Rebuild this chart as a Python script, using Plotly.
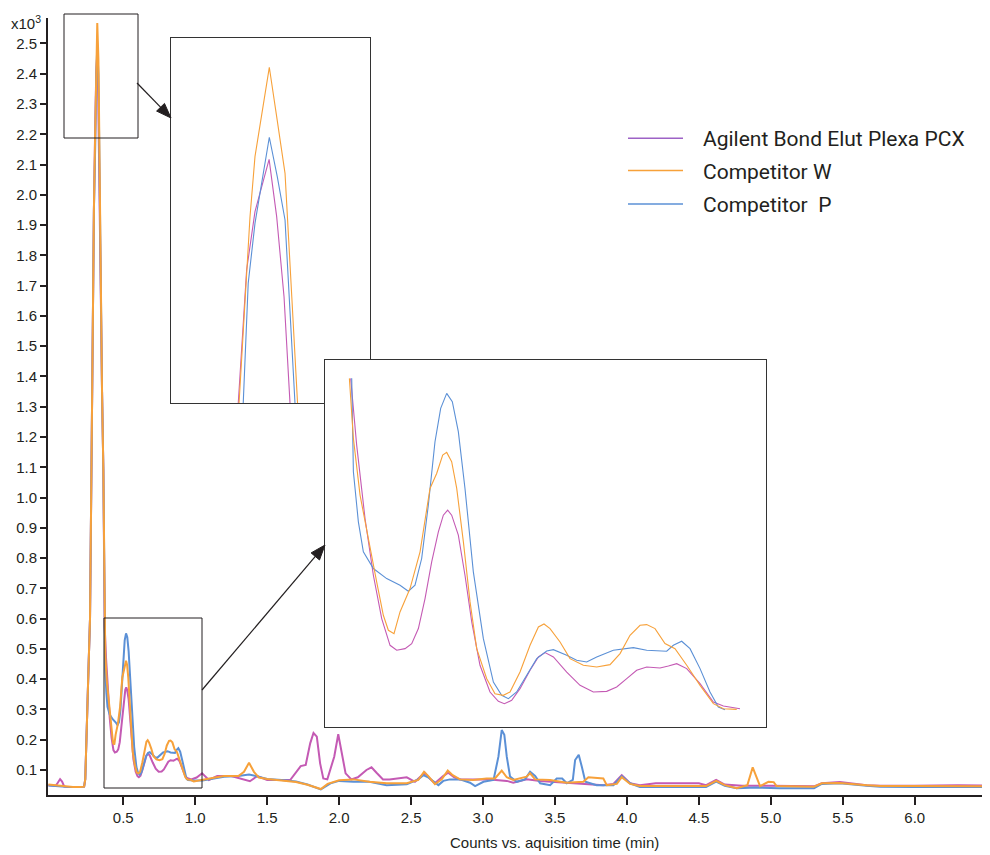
import numpy as np
import plotly.graph_objects as go

# ---------------- data (time in min, counts in x10^3) ----------------
pcx_time = [-0.02, 0.0, 0.03, 0.045, 0.061, 0.075, 0.09, 0.15, 0.2, 0.228, 0.236, 0.244, 0.252, 0.26, 0.269, 0.278, 0.288, 0.296,
            0.3038, 0.3080, 0.3122, 0.3193, 0.3231, 0.3268, 0.3298,
            0.336, 0.343, 0.3525, 0.3617,
            0.3707, 0.3800, 0.3929, 0.4058, 0.4187, 0.4316, 0.4419, 0.4548, 0.4651, 0.4754, 0.4857, 0.4960, 0.5063, 0.5140,
            0.5207, 0.5269, 0.5372, 0.5475, 0.5579, 0.5707, 0.5862, 0.5991, 0.6084, 0.6197, 0.6326, 0.6481, 0.6610, 0.6713,
            0.6842, 0.7048, 0.7254, 0.7460, 0.7666, 0.7821, 0.7976, 0.8130, 0.8285, 0.8491, 0.8620, 0.8749, 0.8904, 0.9110,
            0.9316, 0.9471, 0.9728,
            1.01, 1.048, 1.095, 1.153, 1.25, 1.339, 1.38, 1.432, 1.5, 1.66, 1.71, 1.733, 1.768, 1.799, 1.822, 1.845, 1.868,
            1.89, 1.918, 1.966, 1.994, 2.022, 2.045, 2.085, 2.13, 2.19, 2.225, 2.26, 2.305, 2.35, 2.40, 2.47, 2.527, 2.572,
            2.595, 2.63, 2.665, 2.723, 2.758, 2.80, 2.84, 3.05, 3.165, 3.21, 3.303, 3.397, 3.49, 3.63, 3.72, 3.836, 3.906,
            3.964, 4.022, 4.09, 4.2, 4.5, 4.55, 4.62, 4.68, 4.8, 5.0, 5.3, 5.354, 5.48, 5.666, 5.76, 6.0, 6.3, 6.52]
pcx_counts = [0.05, 0.05, 0.048, 0.058, 0.070, 0.062, 0.045, 0.044, 0.044, 0.045, 0.07, 0.18, 0.32, 0.46, 0.6, 1.1, 1.59, 1.95,
              2.19, 2.3394, 2.4049, 2.4637, 2.3993, 2.3094, 2.19,
              1.9, 1.6, 1.35, 1.09,
              0.5744, 0.4722, 0.3598, 0.2729, 0.2065, 0.1656, 0.1580, 0.1605, 0.1682, 0.1912, 0.2372, 0.2934, 0.3394, 0.3649,
              0.3726, 0.3649, 0.3343, 0.2729, 0.2014, 0.1350, 0.0941, 0.0798, 0.0762, 0.0813, 0.0992, 0.1273, 0.1477, 0.1544,
              0.1477, 0.1247, 0.1043, 0.0941, 0.0951, 0.1017, 0.1145, 0.1273, 0.1324, 0.1309, 0.1340, 0.1375, 0.1299, 0.1068,
              0.0787, 0.0726, 0.0685,
              0.075, 0.089, 0.067, 0.080, 0.08, 0.069, 0.063, 0.080, 0.067, 0.067, 0.10, 0.113, 0.117, 0.188, 0.222, 0.21, 0.122,
              0.072, 0.069, 0.144, 0.218, 0.144, 0.089, 0.069, 0.076, 0.10, 0.109, 0.091, 0.069, 0.069, 0.072, 0.076, 0.061, 0.083,
              0.091, 0.072, 0.056, 0.080, 0.091, 0.076, 0.069, 0.069, 0.064, 0.058, 0.069, 0.064, 0.061, 0.058, 0.056, 0.05, 0.054,
              0.083, 0.056, 0.05, 0.056, 0.056, 0.05, 0.067, 0.052, 0.048, 0.048, 0.046, 0.056, 0.060, 0.05, 0.048, 0.048, 0.05, 0.048]

w_time = [-0.02, 0.0, 0.02, 0.06, 0.10, 0.15, 0.20, 0.228, 0.236, 0.244, 0.252, 0.26, 0.269, 0.278, 0.288, 0.296,
          0.3042, 0.3058, 0.3097, 0.3122, 0.3194, 0.3231, 0.3273, 0.3307, 0.3332,
          0.338, 0.343, 0.3525, 0.3617,
          0.3687, 0.3749, 0.3852, 0.4006, 0.4109, 0.4212, 0.4290, 0.4377, 0.4470, 0.4625, 0.4780, 0.4934, 0.5037, 0.5130,
          0.5192, 0.5269, 0.5347, 0.5450, 0.5553, 0.5656, 0.5811, 0.5939, 0.6068, 0.6171, 0.6326, 0.6481, 0.6610, 0.6697,
          0.6790, 0.6945, 0.7099, 0.7305, 0.7512, 0.7718, 0.7873, 0.8027, 0.8182, 0.8285, 0.8414, 0.8568, 0.8723, 0.8904,
          0.9110, 0.9316, 0.9471, 0.9677,
          0.99, 1.05, 1.10, 1.2, 1.3, 1.339, 1.374, 1.408, 1.443, 1.5, 1.6, 1.7, 1.78, 1.873, 1.92, 2.0, 2.1, 2.21, 2.33,
          2.47, 2.55, 2.59, 2.62, 2.666, 2.713, 2.755, 2.789, 2.84, 2.93, 3.025, 3.083, 3.13, 3.165, 3.21, 3.303, 3.327,
          3.362, 3.466, 3.582, 3.697, 3.732, 3.836, 3.86, 3.93, 3.964, 4.022, 4.09, 4.3, 4.55, 4.62, 4.68, 4.763, 4.837,
          4.874, 4.906, 4.925, 4.983, 5.02, 5.04, 5.3, 5.354, 5.48, 5.666, 5.76, 6.0, 6.3, 6.52]
w_counts = [0.052, 0.051, 0.048, 0.046, 0.045, 0.044, 0.044, 0.045, 0.07, 0.18, 0.32, 0.46, 0.6, 1.1, 1.59, 1.95,
            2.19, 2.2495, 2.3993, 2.4667, 2.5671, 2.5116, 2.4480, 2.3094, 2.19,
            1.9, 1.6, 1.35, 1.09,
            0.5744, 0.4824, 0.3956, 0.3138, 0.2627, 0.2116, 0.1886, 0.1835, 0.2167, 0.2525, 0.3087, 0.4058, 0.4288, 0.4569,
            0.4610, 0.4467, 0.4058, 0.3240, 0.2321, 0.1605, 0.1145, 0.0915, 0.0890, 0.0941, 0.1247, 0.1656, 0.1937, 0.1983,
            0.1912, 0.1707, 0.1452, 0.1350, 0.1324, 0.1360, 0.1529, 0.1810, 0.1963, 0.1973, 0.1912, 0.1682, 0.1605, 0.1350,
            0.1043, 0.0762, 0.0685, 0.0675,
            0.062, 0.068, 0.072, 0.08, 0.08, 0.094, 0.124, 0.094, 0.075, 0.07, 0.065, 0.06, 0.051, 0.037, 0.054, 0.066, 0.069, 0.061, 0.056,
            0.056, 0.067, 0.094, 0.080, 0.053, 0.069, 0.098, 0.083, 0.069, 0.067, 0.072, 0.072, 0.098, 0.076, 0.067, 0.078, 0.089,
            0.069, 0.067, 0.058, 0.061, 0.076, 0.072, 0.05, 0.054, 0.076, 0.054, 0.047, 0.048, 0.047, 0.064, 0.05, 0.04, 0.05,
            0.109, 0.072, 0.047, 0.061, 0.06, 0.047, 0.045, 0.056, 0.057, 0.05, 0.047, 0.047, 0.046, 0.046]

p_time = [-0.02, 0.0, 0.05, 0.10, 0.15, 0.20, 0.228, 0.236, 0.244, 0.252, 0.26, 0.269, 0.278, 0.288, 0.296,
          0.3063, 0.3088, 0.3122, 0.3194, 0.3234, 0.3273, 0.3323,
          0.338, 0.343, 0.3525, 0.3617,
          0.3723, 0.3749, 0.3826, 0.3903, 0.4058, 0.4264, 0.4470, 0.4599, 0.4702, 0.4805, 0.4908, 0.5011, 0.5099, 0.5192,
          0.5279, 0.5372, 0.5475, 0.5604, 0.5759, 0.5914, 0.6042, 0.6146, 0.6274, 0.6429, 0.6584, 0.6738, 0.6842, 0.7048,
          0.7202, 0.7357, 0.7512, 0.7769, 0.8079, 0.8285, 0.8594, 0.8697, 0.8826, 0.8955, 0.9110, 0.9264, 0.9393, 0.9496,
          0.99, 1.05, 1.1, 1.2, 1.3, 1.374, 1.44, 1.5, 1.6, 1.7, 1.78, 1.873, 1.94, 2.0, 2.1, 2.21, 2.33, 2.47, 2.55, 2.585,
          2.618, 2.69, 2.724, 2.77, 2.84, 2.91, 2.945, 3.003, 3.073, 3.107, 3.13, 3.148, 3.165, 3.188, 3.234, 3.292, 3.327,
          3.362, 3.397, 3.466, 3.512, 3.55, 3.582, 3.624, 3.64, 3.665, 3.687, 3.711, 3.79, 3.906, 3.964, 4.022, 4.09, 4.3,
          4.55, 4.62, 4.68, 4.763, 4.9, 5.06, 5.3, 5.354, 5.48, 5.666, 5.76, 6.0, 6.3, 6.52]
p_counts = [0.049, 0.048, 0.046, 0.045, 0.044, 0.044, 0.045, 0.07, 0.18, 0.32, 0.46, 0.6, 1.1, 1.59, 1.95,
            2.19, 2.3245, 2.3918, 2.4885, 2.4442, 2.3956, 2.19,
            1.9, 1.6, 1.35, 1.09,
            0.5744, 0.4313, 0.3547, 0.3087, 0.2832, 0.2678, 0.2576, 0.2484, 0.2576, 0.2985, 0.3803, 0.4773, 0.5284, 0.5514,
            0.5387, 0.4927, 0.4058, 0.2781, 0.1758, 0.1094, 0.0890, 0.0839, 0.0941, 0.1196, 0.1452, 0.1569, 0.1590, 0.1503,
            0.1426, 0.1401, 0.1478, 0.1580, 0.1621, 0.1580, 0.1565, 0.1656, 0.1718, 0.1605, 0.1299, 0.0941, 0.0711, 0.0670,
            0.065, 0.065, 0.07, 0.078, 0.08, 0.085, 0.078, 0.07, 0.067, 0.062, 0.052, 0.036, 0.056, 0.064, 0.061, 0.061, 0.05, 0.053, 0.069, 0.083,
            0.076, 0.05, 0.064, 0.069, 0.069, 0.058, 0.047, 0.061, 0.067, 0.144, 0.232, 0.216, 0.144, 0.078, 0.061, 0.069, 0.094,
            0.080, 0.056, 0.05, 0.072, 0.072, 0.056, 0.067, 0.133, 0.15, 0.11, 0.061, 0.05, 0.05, 0.08, 0.056, 0.044, 0.043,
            0.044, 0.062, 0.048, 0.04, 0.042, 0.04, 0.04, 0.054, 0.056, 0.048, 0.045, 0.044, 0.044, 0.044]

series_names = ["Agilent Bond Elut Plexa PCX", "Competitor W", "Competitor  P"]
line_colors = ["#c45ab4", "#f7a13a", "#5b90d6"]
legend_colors = ["#9d62c6", "#f7a13a", "#5b90d6"]

x_tick_vals = [0.5, 1.0, 1.5, 2.0, 2.5, 3.0, 3.5, 4.0, 4.5, 5.0, 5.5, 6.0]
x_tick_text = ["0.5", "1.0", "1.5", "2.0", "2.5", "3.0", "3.5", "4.0", "4.5", "5.0", "5.5", "6.0"]
y_tick_vals = [round(0.1 * i, 1) for i in range(1, 26)]
y_tick_text = ["%.1f" % v for v in y_tick_vals]

# ---------------- figure ----------------
series = [(pcx_time, pcx_counts), (p_time, p_counts), (w_time, w_counts)]
order_idx = [0, 2, 1]

fig = go.Figure()
for (t, c), k in zip(series, order_idx):
    fig.add_trace(go.Scatter(x=t, y=c, mode="lines", name=series_names[k],
                             line=dict(color=line_colors[k], width=2), showlegend=False,
                             xaxis="x", yaxis="y", hoverinfo="skip"))
for (t, c), k in zip(series, order_idx):
    fig.add_trace(go.Scatter(x=t, y=c, mode="lines", line=dict(color=line_colors[k], width=1.1),
                             showlegend=False, xaxis="x2", yaxis="y2", hoverinfo="skip"))
for (t, c), k in zip(series, order_idx):
    ta = np.array(t); ca = np.array(c)
    m = (ta >= 0.365) & (ta <= 0.975)
    fig.add_trace(go.Scatter(x=ta[m], y=ca[m], mode="lines", line=dict(color=line_colors[k], width=1.1),
                             showlegend=False, xaxis="x3", yaxis="y3", hoverinfo="skip"))

# page places the figure 8px from the top-left corner (body margin)
OFF = 8
W, H = 982, 847
L, R, T, B = 40, 0, 10, 60
PW, PH = W - L - R, H - T - B


def px(X):
    """screen x pixel -> paper x"""
    return (X - OFF - L) / PW


def py(Y):
    """screen y pixel -> paper y"""
    return (H - B - (Y - OFF)) / PH


ink = "#231f20"
tick_font = dict(family="Liberation Sans, Arial, sans-serif", size=15, color=ink)
inset_axis = dict(showticklabels=False, ticks="", showgrid=False, zeroline=False, showline=True,
                  mirror=True, linecolor="#333333", linewidth=1, fixedrange=True)

fig.update_layout(
    width=W, height=H,
    margin=dict(l=L, r=R, t=T, b=B),
    paper_bgcolor="white", plot_bgcolor="white",
    showlegend=False,
    xaxis=dict(range=[-0.023, 6.523], tickvals=x_tick_vals, ticktext=x_tick_text, ticks="outside",
               ticklen=8, tickwidth=2, tickcolor=ink, showline=True, linecolor=ink, linewidth=2,
               showgrid=False, zeroline=False, tickfont=tick_font, anchor="y"),
    yaxis=dict(range=[0.0174, 2.584], tickvals=y_tick_vals, ticktext=y_tick_text, ticks="outside",
               ticklen=6, tickwidth=2, tickcolor=ink, showline=True, linecolor=ink, linewidth=2,
               showgrid=False, zeroline=False, tickfont=tick_font, anchor="x"),
    xaxis2=dict(domain=[px(171), px(370)], range=[0.27, 0.37], anchor="y2", **inset_axis),
    yaxis2=dict(domain=[py(403), py(38)], range=[2.19, 2.60], anchor="x2", **inset_axis),
    xaxis3=dict(domain=[px(325), px(766)], range=[0.331, 1.013], anchor="y3", **inset_axis),
    yaxis3=dict(domain=[py(727), py(360)], range=[0.0405, 0.6025], anchor="x3", **inset_axis),
)

shapes = []
for ax in ["x2", "x3"]:
    ay = ax.replace("x", "y")
    shapes.append(dict(type="rect", xref=ax + " domain", yref=ay + " domain", x0=0, x1=1, y0=0, y1=1,
                       fillcolor="white", line=dict(width=0), layer="below"))
# source rectangles
shapes.append(dict(type="rect", xref="paper", yref="paper", x0=px(64), x1=px(138), y0=py(138), y1=py(14),
                   line=dict(color=ink, width=1)))
shapes.append(dict(type="rect", xref="paper", yref="paper", x0=px(104), x1=px(202), y0=py(788), y1=py(618),
                   line=dict(color=ink, width=1)))


def arrow(tail, head, hl=15.0, hw=5.5):
    (x0, y0), (x1, y1) = tail, head
    d = np.hypot(x1 - x0, y1 - y0)
    ux, uy = (x1 - x0) / d, (y1 - y0) / d
    bx, by = x1 - ux * hl, y1 - uy * hl
    nx, ny = -uy, ux
    out = [dict(type="line", xref="paper", yref="paper", x0=px(x0), y0=py(y0), x1=px(bx + ux * 2), y1=py(by + uy * 2),
                line=dict(color=ink, width=1.2))]
    p = "M %.5f,%.5f L %.5f,%.5f L %.5f,%.5f Z" % (px(x1), py(y1), px(bx + nx * hw), py(by + ny * hw),
                                                    px(bx - nx * hw), py(by - ny * hw))
    out.append(dict(type="path", xref="paper", yref="paper", path=p, fillcolor=ink, line=dict(color=ink, width=1)))
    return out


shapes += arrow((137, 83), (171, 118))
shapes += arrow((202, 690), (325, 545))

legend_y = [138.3, 170.5, 204]
for k, Y in enumerate(legend_y):
    shapes.append(dict(type="line", xref="paper", yref="paper", x0=px(628), x1=px(683), y0=py(Y), y1=py(Y),
                       line=dict(color=legend_colors[k], width=1.5)))
fig.update_layout(shapes=shapes)

ann = []
for k, Y in enumerate(legend_y):
    ann.append(dict(xref="paper", yref="paper", x=px(701), y=py(Y + 1), text=series_names[k], showarrow=False,
                    xanchor="left", yanchor="middle",
                    font=dict(family="Roboto, Liberation Sans, sans-serif", size=21, color=ink)))
ann.append(dict(xref="paper", yref="paper", x=px(554), y=py(842), text="Counts vs. aquisition time (min)",
                showarrow=False, xanchor="center", yanchor="middle", font=tick_font))
ann.append(dict(xref="paper", yref="paper", x=px(9), y=py(22), text="x10<sup>3</sup>",
                showarrow=False, xanchor="left", yanchor="middle", font=dict(tick_font, size=15)))
fig.update_layout(annotations=ann)

fig.write_html("out.html")
